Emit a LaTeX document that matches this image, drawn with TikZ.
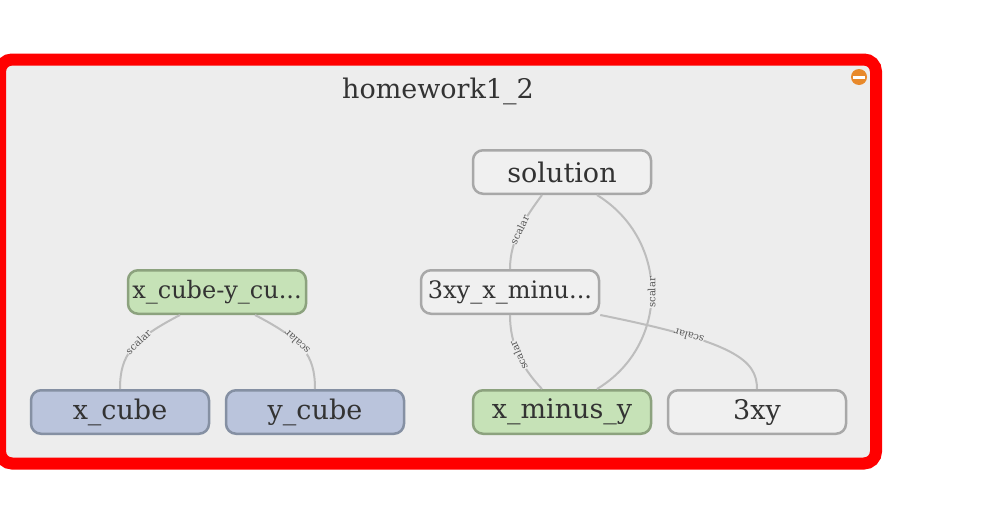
\documentclass[tikz,border=0pt]{standalone}
\usepackage{fontspec}
\setmainfont{DejaVu Serif}
\begin{document}
\begin{tikzpicture}[x=1pt,y=-1pt,
  box/.style={draw, rounded corners=10pt, line width=2.5pt, minimum width=178pt, minimum height=43.5pt, inner sep=0pt, font=\fontsize{27}{29}\selectfont, text=txt},
  small/.style={font=\fontsize{24}{26}\selectfont},
  graybox/.style={box, draw=gborder, fill=gfill},
  greenbox/.style={box, draw=grborder, fill=grfill},
  bluebox/.style={box, draw=bborder, fill=bfill},
  edge/.style={draw=edgec, line width=2pt},
  lbl/.style={font=\fontsize{10}{11}\selectfont, text=lblc, sloped, allow upside down, inner sep=0pt, fill=bg}
]
\definecolor{bg}{HTML}{EDEDED}
\definecolor{txt}{HTML}{333333}
\definecolor{gborder}{HTML}{A8A8A8}
\definecolor{gfill}{HTML}{F0F0F0}
\definecolor{grborder}{HTML}{8CA27E}
\definecolor{grfill}{HTML}{C6E2B7}
\definecolor{bborder}{HTML}{8590A3}
\definecolor{bfill}{HTML}{BAC4DC}
\definecolor{edgec}{HTML}{BDBDBD}
\definecolor{lblc}{HTML}{555555}
\definecolor{frame}{HTML}{FF0000}
\definecolor{icon}{HTML}{E8892B}
\useasboundingbox (0,0) rectangle (997,525);
\fill[white] (0,0) rectangle (997,525);
\begin{scope}
\clip (0,0) rectangle (997,525);
\draw[draw=frame, fill=bg, line width=12pt, rounded corners=12pt] (0,59.5) rectangle (876,463.5);
\end{scope}
\node[font=\fontsize{27}{29}\selectfont, text=txt] (title) at (438,91) {homework1\_2};
\node[circle, fill=icon, minimum size=16pt, inner sep=0pt] (icon) at (859,77) {};
\fill[white] (853,75.5) rectangle (865,78.5);

\node[graybox] (solution) at (562,172) {solution};
\node[graybox, small] (xyx) at (510,292) {3xy\_x\_minu...};
\node[greenbox, small] (xcy) at (217,292) {x\_cube-y\_cu...};
\node[bluebox] (xcube) at (120,412) {x\_cube};
\node[bluebox] (ycube) at (315,412) {y\_cube};
\node[greenbox] (xmy) at (562,412) {x\_minus\_y};
\node[graybox] (txy) at (757,412) {3xy};

\path[edge] (xcube.north) .. controls (120,355) and (132,340) .. (xcy.south west -| 180,0) node[lbl, pos=0.6] {scalar};
\path[edge] (ycube.north) .. controls (315,355) and (303,340) .. (xcy.south west -| 255,0) node[lbl, pos=0.6] {scalar};
\path[edge] (xyx.north) .. controls (510,240) and (525,218) .. (solution.south west -| 542,0) node[lbl, pos=0.5] {scalar};
\path[edge] (xmy.north west -| 597,0) .. controls (670,345) and (670,240) .. (solution.south west -| 597,0) node[lbl, pos=0.5] {scalar};
\path[edge] (xmy.north west -| 542,0) .. controls (522,368) and (510,345) .. (xyx.south) node[lbl, pos=0.5] {scalar};
\path[edge] (txy.north) .. controls (757,360) and (735,342) .. (xyx.south east) node[lbl, pos=0.72] {scalar};
\end{tikzpicture}
\end{document}
